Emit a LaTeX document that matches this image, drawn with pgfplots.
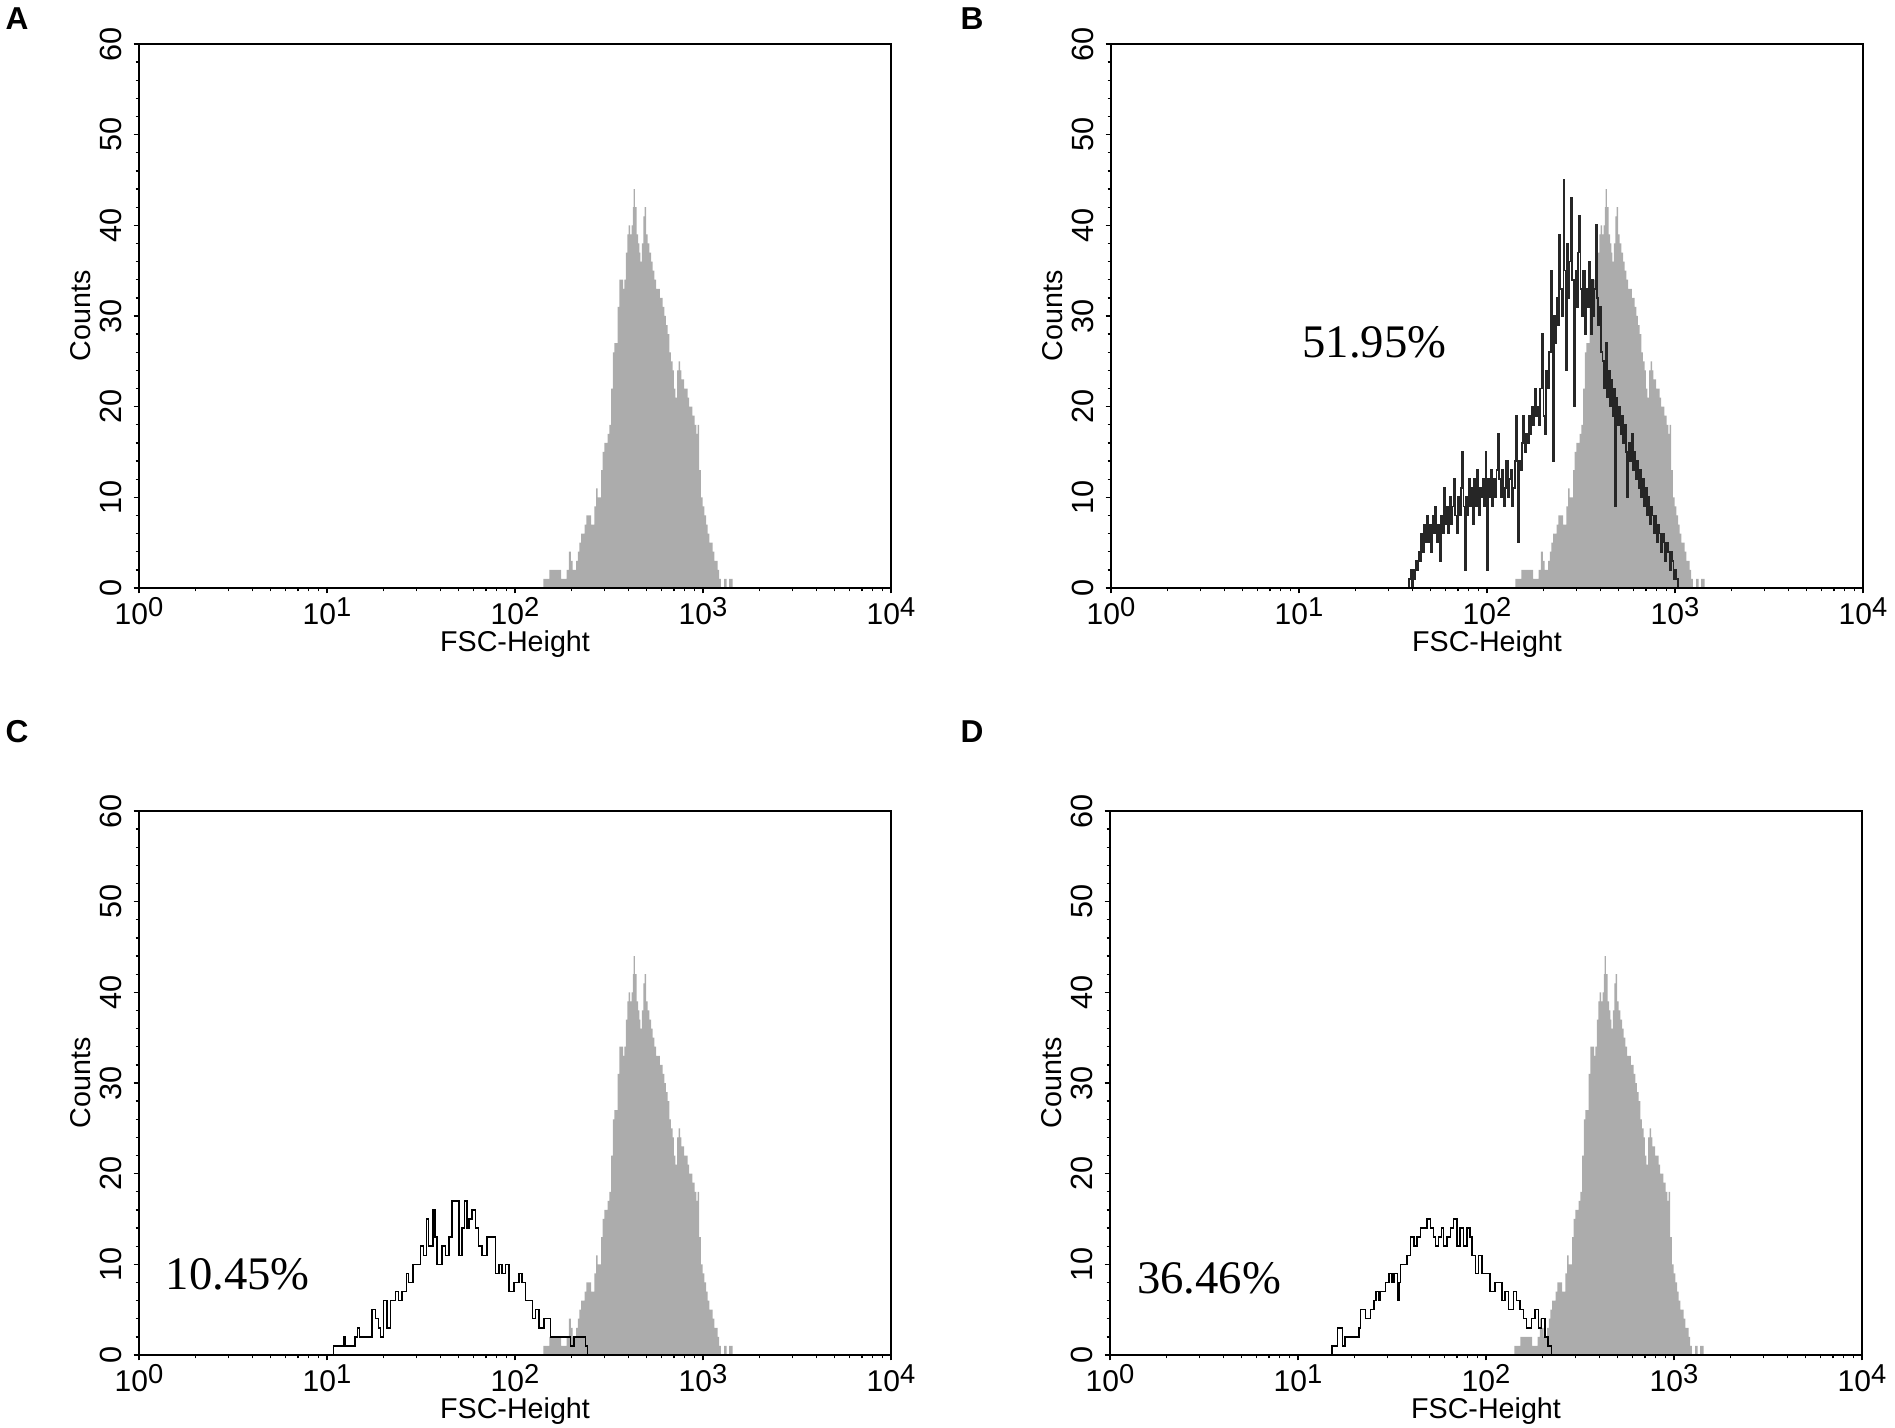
\documentclass[border=0pt]{standalone}
\usepackage{fontspec}
\setmainfont{Liberation Sans}
\newfontfamily\seriffont{Liberation Serif}
\usepackage{pgfplots}
\pgfplotsset{compat=1.18}
\usepackage{pgfplotstable}
\definecolor{histgray}{RGB}{172,172,172}
\newcommand\dec[1]{10\raisebox{2.4pt}{\fontsize{8.2}{9}\selectfont #1}}

\pgfplotstableread{
lx c
0 0
2.151 1
2.183 2
2.245 1
2.275 2
2.286 4
2.297 3
2.307 2
2.325 3
2.335 4
2.343 5
2.352 6
2.370 7
2.380 8
2.405 7
2.422 9
2.431 11
2.440 10
2.458 13
2.466 15
2.475 16
2.493 17
2.502 18
2.511 22
2.520 26
2.528 27
2.546 31
2.555 34
2.575 33
2.582 34
2.590 37
2.598 39
2.605 40
2.612 39
2.620 40
2.627 42
2.631 44
2.638 42
2.647 39
2.655 38
2.662 37
2.667 36
2.675 38
2.683 41
2.690 42
2.697 39
2.706 38
2.715 37
2.724 36
2.732 35
2.741 34
2.750 33
2.770 32
2.785 31
2.795 30
2.803 29
2.812 28
2.821 26
2.829 25
2.838 24
2.845 22
2.853 21
2.862 24
2.870 25
2.878 24
2.885 23
2.900 22
2.918 21
2.926 20
2.944 19
2.955 18
2.965 17
2.971 18
2.980 13
2.989 10
2.998 9
3.007 8
3.016 7
3.025 6
3.034 5
3.051 4
3.060 3
3.078 2
3.086 1
3.095 0
3.113 1
3.125 0
3.139 1
3.157 0
4 0
}\grayctl

\pgfplotstableread{
lx c
0 0
1.585 1
1.595 2
1.600 0
1.605 2
1.612 1
1.620 3
1.628 2
1.635 4
1.642 3
1.650 6
1.658 4
1.665 7
1.672 5
1.680 8
1.688 5
1.695 7
1.702 4
1.710 8
1.718 6
1.725 9
1.732 5
1.740 7
1.748 3
1.755 8
1.762 6
1.770 11
1.778 7
1.785 9
1.792 6
1.800 10
1.808 7
1.815 9
1.822 12
1.830 8
1.838 6
1.845 10
1.852 8
1.860 11
1.868 15
1.875 9
1.881 2
1.888 10
1.895 8
1.902 12
1.910 9
1.918 11
1.925 7
1.932 12
1.940 9
1.948 13
1.955 8
1.962 11
1.970 10
1.978 12
1.985 9
1.992 15
1.998 2
2.005 12
2.012 10
2.020 13
2.028 9
2.035 12
2.042 10
2.050 13
2.057 17
2.065 12
2.072 10
2.080 13
2.088 9
2.095 11
2.102 14
2.110 10
2.118 12
2.125 13
2.132 9
2.140 11
2.148 14
2.155 19
2.163 5
2.170 14
2.178 13
2.185 16
2.192 19
2.200 15
2.208 17
2.215 16
2.222 19
2.230 17
2.236 20
2.244 18
2.252 22
2.260 19
2.268 20
2.275 18
2.282 22
2.292 28
2.300 19
2.308 17
2.315 24
2.322 22
2.330 26
2.340 35
2.349 14
2.356 30
2.363 27
2.370 32
2.378 29
2.384 39
2.390 33
2.398 30
2.407 45
2.413 35
2.419 24
2.426 38
2.432 32
2.438 36
2.445 43
2.452 34
2.463 20
2.470 35
2.476 31
2.483 37
2.490 41
2.497 33
2.505 30
2.512 35
2.520 28
2.528 33
2.535 31
2.542 36
2.550 28
2.558 34
2.565 30
2.572 33
2.578 40
2.585 32
2.592 29
2.600 31
2.607 26
2.614 25
2.622 22
2.630 27
2.638 21
2.646 24
2.653 20
2.660 23
2.668 19
2.675 22
2.681 9
2.688 21
2.695 18
2.702 20
2.710 17
2.718 19
2.725 16
2.732 18
2.740 15
2.746 10
2.753 16
2.760 14
2.768 17
2.775 13
2.782 15
2.790 12
2.798 14
2.805 11
2.812 13
2.820 10
2.828 12
2.835 9
2.842 11
2.850 8
2.858 10
2.865 7
2.872 9
2.880 8
2.888 6
2.895 8
2.902 5
2.910 7
2.918 6
2.925 4
2.932 6
2.940 5
2.948 3
2.955 5
2.962 4
2.970 2
2.978 4
2.985 3
2.992 1
3.000 2
3.008 1
3.016 0
4 0
}\lineB

\pgfplotstableread{
lx c
0 0
1.035 1
1.088 2
1.097 1
1.150 2
1.163 3
1.172 2
1.239 5
1.257 4
1.275 3
1.284 2
1.301 6
1.319 3
1.337 6
1.364 7
1.381 6
1.399 7
1.422 9
1.434 8
1.458 10
1.497 12
1.514 11
1.529 15
1.541 12
1.564 16
1.575 13
1.586 10
1.612 12
1.630 11
1.648 13
1.665 17
1.683 17
1.701 11
1.719 14
1.731 17
1.745 14
1.754 15
1.772 16
1.790 14
1.807 12
1.825 11
1.852 13
1.896 9
1.914 10
1.932 9
1.949 10
1.967 7
1.994 8
2.020 9
2.038 8
2.056 6
2.092 4
2.109 5
2.127 3
2.154 4
2.189 2
2.296 1
2.313 2
2.376 1
2.385 0
4 0
}\lineC

\pgfplotstableread{
lx c
0 0
1.180 1
1.210 3
1.236 1
1.250 2
1.325 3
1.333 5
1.360 4
1.386 5
1.404 6
1.416 7
1.431 6
1.439 7
1.466 8
1.483 9
1.501 8
1.510 9
1.528 6
1.536 8
1.545 10
1.581 11
1.598 13
1.616 12
1.634 13
1.651 14
1.687 15
1.704 14
1.722 13
1.731 12
1.748 13
1.763 14
1.775 12
1.793 13
1.810 14
1.828 15
1.846 12
1.863 14
1.881 12
1.899 14
1.916 13
1.925 11
1.943 9
1.960 11
1.978 9
2.022 7
2.049 8
2.084 6
2.102 7
2.119 5
2.146 7
2.163 6
2.181 5
2.199 4
2.216 3
2.243 4
2.261 5
2.278 3
2.296 4
2.314 2
2.331 1
2.349 0
4 0
}\lineD

\pgfplotsset{flow/.style={
  width=225.6pt, height=163.2pt, scale only axis,
  xmin=0, xmax=4, ymin=0, ymax=60,
  xtick={0,1,2,3,4}, xticklabels={\dec0,\dec1,\dec2,\dec3,\dec4},
  minor xtick={0.30103,0.47712,0.60206,0.69897,0.77815,0.84510,0.90309,0.95424,
    1.30103,1.47712,1.60206,1.69897,1.77815,1.84510,1.90309,1.95424,
    2.30103,2.47712,2.60206,2.69897,2.77815,2.84510,2.90309,2.95424,
    3.30103,3.47712,3.60206,3.69897,3.77815,3.84510,3.90309,3.95424},
  ytick={0,10,...,60}, minor y tick num=4,
  /pgf/number format/assume math mode=true,
  tick pos=left, tick align=outside,
  major tick length=1.6pt, minor tick length=1pt,
  tick style={black, line width=0.4pt},
  yticklabel style={rotate=90, anchor=south, font=\fontsize{9.2}{10}\selectfont},
  xticklabel style={anchor=north, inner sep=1pt, font=\fontsize{9}{10}\selectfont},
  xlabel={FSC-Height}, ylabel={Counts},
  xlabel style={at={(axis description cs:0.5,0)}, anchor=north, inner sep=0.5pt, yshift=-12.1pt, font=\fontsize{8.6}{9}\selectfont},
  ylabel style={at={(axis description cs:-0.0488,0.5)}, anchor=south, font=\fontsize{8.6}{9}\selectfont},
  axis line style={black, line width=0.45pt},
  axis on top,
}}

\begin{document}
\begin{tikzpicture}
\path[use as bounding box] (0,0) rectangle (568.5pt,428.4pt);

% A
\begin{axis}[flow, at={(41.7pt,252pt)}, anchor=south west]
\addplot[const plot, fill=histgray, draw=none] table[x=lx,y=c] {\grayctl} \closedcycle;
\end{axis}

% B
\begin{axis}[flow, at={(333.3pt,252pt)}, anchor=south west]
\addplot[const plot, fill=histgray, draw=none] table[x=lx,y=c] {\grayctl} \closedcycle;
\addplot[const plot, black!85, line width=0.5pt] table[x=lx,y=c] {\lineB};
\node[font=\seriffont\fontsize{14}{16}\selectfont] at (axis cs:1.401,27.1) {51.95\%};
\end{axis}

% C
\begin{axis}[flow, at={(41.7pt,21.9pt)}, anchor=south west]
\addplot[const plot, fill=histgray, draw=none] table[x=lx,y=c] {\grayctl} \closedcycle;
\addplot[const plot, black, line width=0.45pt] table[x=lx,y=c] {\lineC};
\node[font=\seriffont\fontsize{14}{16}\selectfont] at (axis cs:0.525,8.9) {10.45\%};
\end{axis}

% D
\begin{axis}[flow, at={(333pt,21.9pt)}, anchor=south west]
\addplot[const plot, fill=histgray, draw=none] table[x=lx,y=c] {\grayctl} \closedcycle;
\addplot[const plot, black, line width=0.45pt] table[x=lx,y=c] {\lineD};
\node[font=\seriffont\fontsize{14}{16}\selectfont] at (axis cs:0.527,8.5) {36.46\%};
\end{axis}

\node[font=\bfseries\fontsize{9.5}{10}\selectfont] at (5.1pt,422.7pt) {A};
\node[font=\bfseries\fontsize{9.5}{10}\selectfont] at (291.6pt,422.7pt) {B};
\node[font=\bfseries\fontsize{9.5}{10}\selectfont] at (5.1pt,208.9pt) {C};
\node[font=\bfseries\fontsize{9.5}{10}\selectfont] at (291.6pt,208.9pt) {D};
\end{tikzpicture}
\end{document}
